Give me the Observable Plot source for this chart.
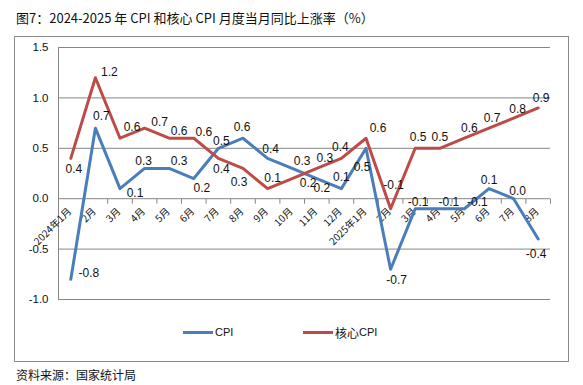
<!DOCTYPE html>
<html><head><meta charset="utf-8">
<script src="https://cdn.jsdelivr.net/npm/d3@7"></script>
<script src="https://cdn.jsdelivr.net/npm/@observablehq/plot@0.6"></script>
<style>
body{margin:0;background:#fff;}
#wrap{position:relative;width:583px;height:385px;overflow:hidden;background:#fff;}
#title{position:absolute;left:16px;top:8px;font-size:13px;font-family:"Noto Sans CJK SC",sans-serif;color:#111;white-space:pre;}
#frame{position:absolute;left:14px;top:36px;width:553px;height:324px;border:1px solid #8a8a8a;}
#frame svg{position:absolute;left:0;top:0;}
#source{position:absolute;left:16px;top:366px;font-size:12px;font-family:"Noto Sans CJK SC",sans-serif;color:#111;white-space:pre;}
.leg{position:absolute;top:288px;height:14px;font-size:11px;font-family:"Liberation Sans",Arial,sans-serif;color:#111;display:flex;align-items:center;}
.leg i{display:inline-block;width:30px;height:3px;margin-right:2px;}
.leg .cjk{font-family:"Noto Sans CJK SC",sans-serif;font-size:12px;}
</style></head>
<body>
<div id="wrap">
  <div id="title">图7：2024-2025 年 CPI 和核心 CPI 月度当月同比上涨率（%）</div>
  <div id="frame"></div>
  <div id="source">资料来源：国家统计局</div>
</div>
<script>
// ---- data ----
const months = ["2024年1月","2月","3月","4月","5月","6月","7月","8月","9月","10月","11月","12月",
                "2025年1月","2月","3月","4月","5月","6月","7月","8月"];
const cpi  = [-0.8,0.7,0.1,0.3,0.3,0.2,0.5,0.6,0.4,0.3,0.2,0.1,0.5,-0.7,-0.1,-0.1,-0.1,0.1,0.0,-0.4];
const core = [0.4,1.2,0.6,0.7,0.6,0.6,0.4,0.3,0.1,0.2,0.3,0.4,0.6,-0.1,0.5,0.5,0.6,0.7,0.8,0.9];
const yTicks = [-1.0,-0.5,0.0,0.5,1.0,1.5];
const seriesNames = ["CPI","核心CPI"];

// ---- styling / label nudges (pixels) ----
const blue = "#4a7ebb", red = "#be4b48", grid = "#868686";
const cpiNudge = [[18,-6],[6,-12],[15,5],[-1,-7],[10,-7],[8,10],[3,-7],[-1,-11],[3,-9],[10,-7],
                  [5,10],[0,-11],[-4,19],[6,11],[3,-7],[9,-7],[13,-7],[0,-8],[4,-8],[-2,15]];
const coreNudge = [[3,11],[14,-6],[12,-11],[15,-6],[10,-7],[10,-6],[3,11],[-4,14],[5,-10],[16,5],
                   [8,-10],[-1,-11],[12,-10],[3,-24],[3,-11],[0,-11],[5,-10],[3,-10],[4,-9],[3,-10]];

const idx = months.map((m,i)=>i);
const bounds = d3.range(months.length + 1).map(i => i - 0.5);
const tickSym = {draw(ctx){ ctx.moveTo(0,0); ctx.lineTo(0,5); }};
const numFont = "Liberation Sans, Arial, sans-serif";
const cjkFont = "Noto Sans CJK SC, sans-serif";

function labels(values, nudge, color){
  return values.map((v,i)=>Plot.text([i], {
    x: d=>d, y: d=>values[d], text: d=>values[d].toFixed(1),
    dx: nudge[i][0], dy: nudge[i][1], fontSize: 12, fontFamily: numFont, fill: "#111",
    textAnchor: "middle", lineAnchor: "middle"
  }));
}

const chart = Plot.plot({
  width: 553, height: 324,
  marginLeft: 43, marginRight: 18, marginTop: 10, marginBottom: 62,
  x: {domain: [-0.5, months.length - 0.5], axis: null},
  y: {domain: [-1, 1.5], axis: null},
  style: {background: "transparent", overflow: "visible"},
  marks: [
    Plot.ruleY(yTicks, {y: d=>d, stroke: grid, strokeWidth: 1}),
    Plot.ruleX([-0.5], {y1: -1, y2: 1.5, stroke: grid, strokeWidth: 1}),
    Plot.text(yTicks, {x: -0.5, y: d=>d, text: d=>d.toFixed(1), textAnchor: "end", dx: -10,
                       fontSize: 11.5, fontFamily: numFont, fill: "#111"}),
    Plot.dot(bounds, {x: d=>d, y: 0, symbol: tickSym, r: 1, stroke: grid, fill: "none", strokeWidth: 1}),
    Plot.text(idx, {x: d=>d, y: 0, text: d=>months[d], rotate: -45, textAnchor: "end",
                    dx: -1, dy: 11, fontSize: 10, fontFamily: cjkFont, fill: "#111"}),
    Plot.line(idx, {x: d=>d, y: d=>cpi[d], stroke: blue, strokeWidth: 3}),
    Plot.line(idx, {x: d=>d, y: d=>core[d], stroke: red, strokeWidth: 3}),
    ...labels(cpi, cpiNudge),
    ...labels(core, coreNudge)
  ]
});
const frame = document.getElementById("frame");
frame.appendChild(chart);

// legend
const legs = [[seriesNames[0], blue, 168, false],[seriesNames[1], red, 288, true]];
for (const [name, color, left, cjk] of legs){
  const d = document.createElement("div");
  d.className = "leg"; d.style.left = left + "px";
  const sw = document.createElement("i"); sw.style.background = color;
  d.appendChild(sw);
  if (cjk){
    const a = document.createElement("span"); a.className = "cjk"; a.textContent = name.slice(0,2);
    const b = document.createElement("span"); b.textContent = name.slice(2);
    d.appendChild(a); d.appendChild(b);
  } else {
    const b = document.createElement("span"); b.textContent = name; d.appendChild(b);
  }
  frame.appendChild(d);
}
</script>
</body></html>
